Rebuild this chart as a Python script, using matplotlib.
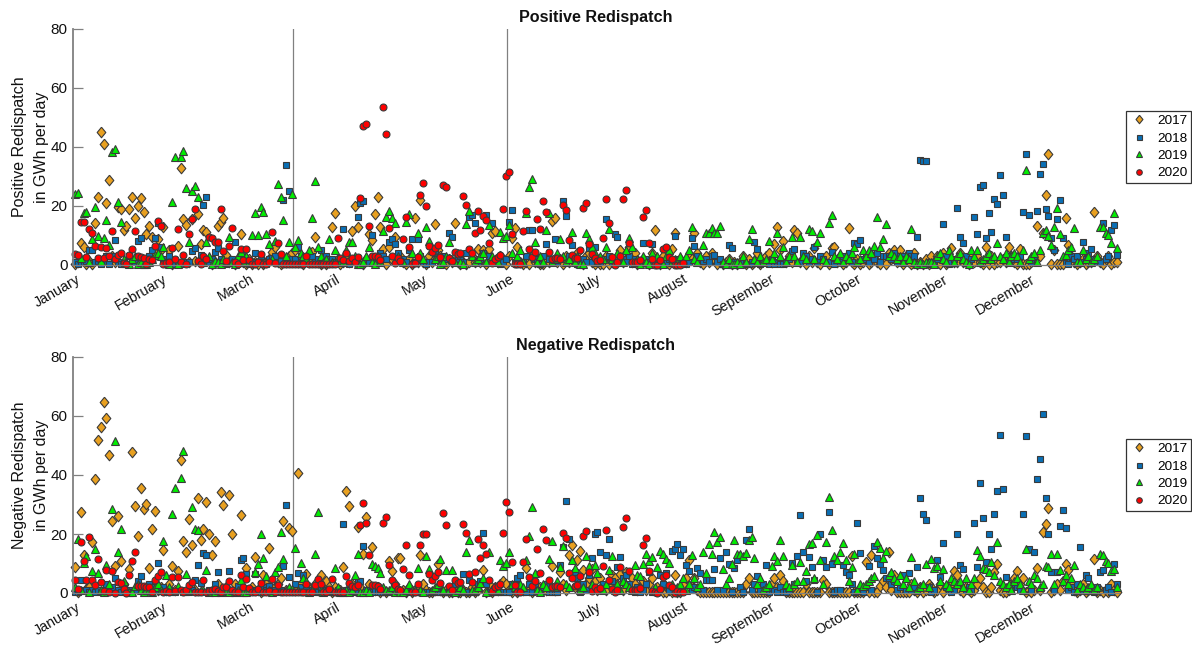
import numpy as np
import matplotlib
matplotlib.use('Agg')
import matplotlib.pyplot as plt
import matplotlib.transforms as mtrans

plt.rcParams['font.family'] = ['Liberation Sans', 'DejaVu Sans']

months = ['January', 'February', 'March', 'April', 'May', 'June', 'July', 'August',
          'September', 'October', 'November', 'December']
month_ticks = [0.6, 31, 61.4, 91.8, 122.2, 152.6, 183, 213.4, 243.8, 274.2, 304.6, 335]
event_days = [77.4, 152.3]
years = ['2017', '2018', '2019', '2020']

# daily values in GWh, ten days per row
pos_2017 = [0.5,1,7.3,6.2,0.3,1.5,0.3,14.1,22.9,45.2,
    40.9,20.9,28.8,3,1,19.8,19,11.9,13.2,19,
    23.2,16,20,22.7,18,10.4,13.2,9.6,4,8.9,
    5,13,1,5,0.5,1,6.5,33,15.5,13.6,
    1,15.5,1.5,17.3,7.1,11.9,11.1,2,0.5,1,
    13.2,14.7,16,3.4,1,1.5,0.5,2,10.4,1,
    0.5,2,0.5,1,0.5,2,0.5,1,2,4.5,
    6,1,0.5,2,1,3,4,5,1,2,
    0.5,2,1,4.5,9.6,1,0.5,1.5,0.5,1,
    13,17.7,2,0.5,1,3,1,11.6,20,12.8,
    1,0.5,2,10.4,8.5,17.3,22.9,13,5.3,0.3,
    6,2,9.6,3,3,1,0.5,2,0.5,15.8,
    1,22,1,0.5,3,1,13.8,5,3,1,
    0.5,2,1,14.3,1,0.5,1,0.2,1,3,
    1,5.5,1,5,0.5,5.5,10.7,11.5,1,3,
    2,0.3,3,9,12.4,6,1,0.3,1,0.5,
    3,1,2,0.5,0.3,2,1,15,15.8,1,
    2,0.5,3,1,2,1,4,1,0.5,3,
    4,1,0.3,2,0.5,0.5,3,0.5,1,1,
    2,5,1,2,6,1,4,0.5,1,2,
    1,0.5,4,12,1,0.5,3,1,0.5,5.5,
    11,1,2,1,1,3,2,11,4,1,
    0.5,3,1,4,2,0.5,1,0.5,1,2,
    0.3,1,0.5,1,3,0.5,2,0.3,1,4,
    0.5,2,3,4,1,7,12.8,5,8,1,
    3,1,12,11,1,2,0.5,3,1,5.6,
    1,0.5,2,3,0.3,5.6,6,1,3,0.5,
    1,12.5,1,0.5,2,0.5,1,2,0.3,1,
    3,1,0.3,2,0.5,4,2,5,1,5,
    0.3,3,1,0.5,4,0.5,1,0.3,2,0.5,
    3,1,3,0.5,4,0.5,2,5.6,1,1,
    4,1,2,0.5,3,1,3,1,0.5,6.2,
    0.5,3,0.5,1,1,2,1,6.2,3,1,
    0.5,5.5,0.5,0.3,0.3,1,3,13.2,3,10.7,
    23.6,37.5,0.3,5,0.3,0.3,0.5,15.9,6.8,3,
    1,0.5,1,2,0.5,1,1,18,3,1,
    0.5,2,3,0.5,1,1]
pos_2018 = [1,0.5,1,1,1.5,5,5,1,1.5,0.5,
    1,3,0.3,3,8.5,1,0.5,0.5,0.5,3,
    2,1,8,9.2,1,0.5,3,5,9.2,14.1,
    6.2,2,1,3,0.5,0.5,1,0.5,1,1,
    1,4.9,5.9,1,3.5,20.3,22.9,1,2,4.5,
    5.6,2,1,0.5,1,2,7.9,1,3,3.5,
    1,0.5,1,4.2,1,3,0.5,0.5,2,2.5,
    3,1,1.5,22,33.9,25,2,2,6,3,
    2,1,3,3,1,2,5,1.5,3,2,
    2,1,1,1,12.3,1,0.5,1,1,16.4,
    21.1,21.7,1,1,10.2,1,1,4,3,2,
    7.9,8.9,7,4,1,2,1,5,8.9,1,
    8.7,3,1,0.5,1,1,4,2,1,3,
    2,10.7,9.6,1,2,3,1,4,16.4,17,
    14.3,1,2,4,17,3,14.3,1,2,0.5,
    1,2,14.6,18.6,1,0.5,1,1,3,11.9,
    11.7,2,1,0.5,3,7,2,1,8.9,1,
    2,21.6,16.7,3,6.8,2,0.5,1,2,1,
    5.7,1,6,2,1,2,15.6,3,1,10.4,
    9.4,1,2,1,3,0.5,2,1,1,7.6,
    2,1,7.1,1,0.5,1,0.5,1,2,1,
    9.8,2,1,1,0.5,1,9.3,6.6,3,1,
    1.5,2,1,3,3.5,1,2,0.5,0.5,6.8,
    5.6,1,0.5,0.5,1,0.5,0.5,1,7.8,5.3,
    0.5,1,1,0.5,2,0.5,1,0.5,0.5,1,
    2,4.7,5.5,1,1,4,3,1,2,6,
    1,3,2,1,1,4.5,0.5,2,1,3,
    2,4,1,7.3,7.1,8.5,2,3,1,3.5,
    2,4,1,3,3,3,2,4,1,3,
    3,2,4,3,3,9.6,35.6,35.1,35.4,1,
    0.5,1,2,3,13.9,3,0.5,1,2,19.3,
    9.4,7.3,3,1,2,16.4,10.5,26.6,27.1,9.2,
    17.5,11.2,22.3,20.6,30.6,23.7,9.5,1,3,2,
    2,3,18,37.6,17,1,3,18.2,30.8,34.4,
    19,16.6,9,5,15.6,22,9,1,0.5,3,
    2,3,1,7.9,2,4,5.5,2,1,1,
    14.1,2,3,11.9,13.6,3.5]
pos_2019 = [24,24.5,2.5,17.7,18,1,8.9,19.8,9.8,1.5,
    9,15.3,6.8,38.3,39.4,21.5,14.5,2,1,0.5,
    2,3,0.5,1,0.5,0.5,1,2,3.5,4,
    3,6,1,0.5,21.2,36.7,0.5,36.5,38.6,26.2,
    7.9,25,26.8,23.2,2,1,7.9,3,0.5,1.5,
    1,0.5,2,1,9.4,1,0.5,3,4.5,1,
    3,1,10,17.5,10,19.8,18,10.4,7,2,
    8.2,27.3,23.2,15.3,3,7.7,24,6,8.5,4,
    3,2,5,16,28.4,6,3,1,2,8.9,
    1,5,2,1,1,5,7.7,7.7,3,0.5,
    0.5,1,3,6,1,0.5,3,1,11.6,16.4,
    18.4,16,14.3,3,2,1,14.7,17.3,4,1,
    10.7,4,2,12.8,8.2,5,2,3,0.5,1,
    3,7.9,2,1,4,1,0.5,13.8,18.2,3,
    1,2,3,4,1,13.6,3,2,1,11.3,
    9,9.8,13.6,4,1,3,5,1,17.5,26.3,
    29,7.9,1,3,1,11.9,17.5,1,2,4,
    8.9,3,1,2,11.3,1,3,0.5,0.5,11,
    8.9,6,4,1,3,2,6.2,12.3,2,1,
    4,3,1,5,9.3,6,1,2,0.5,3,
    1,0.5,4,1,3,1,0.5,3,5,1,
    2,1,3,1,3,5,13,2,1,3,
    6.8,11,11,12.4,10.7,11,13.2,1,0.5,2,
    0.5,0.5,1,0.5,3,1,8.7,12.3,2,1,
    3,1,2,8.1,2,4,10.7,3,6,1,
    3,9.6,3,1,9.4,3,2,12.3,11.6,2,
    7.7,11,2,1,14.3,17,3,2,4,1,
    3,2,4,6.2,1,2,5,3,5,4,
    6.5,16.4,6.2,8.9,13.8,3,4,3,2,3,
    1,3,2,12.3,1,0.5,1,0.5,1,1,
    1,0.5,3,4,2,1,5,3,1,3,
    4,2,1,0.5,5,3,5,1,2,3,
    4,2,3,7.3,3,2,4,1,3,4,
    3,1,5,32.2,2,3,4,1,5,10.7,
    12,9.8,6.8,13,19.2,10.4,3,3.5,5,6,
    12.4,1,1,5,2,3,1,2,3,13,
    12.8,10.7,10.2,7.3,17.5,5.9]
pos_2020 = [3.7,3.4,14.7,14.6,2.8,12.2,11,6.4,2.5,6,
    2.3,5.6,3.1,11.5,1.9,3.4,4,0.6,0.2,3.4,
    5.4,11.6,3,2.8,2.3,0.2,1.9,1.7,6.6,14.9,
    13.3,0.2,0.8,1.1,5.6,1.9,12.1,1.1,3.4,0.2,
    10.4,15.5,18.9,1.5,0.2,3,1.9,9.6,9.2,7.9,
    7.7,18.9,4.9,1.5,6.6,12.5,0.9,0.2,5.3,1.6,
    5.4,1.7,0.2,0.2,1.1,3.7,0.2,0.2,1.1,11.3,
    0.6,7.3,3.7,0.2,0.5,0.2,0.2,0.2,0.2,0.3,
    0.5,3,0.2,0.2,0.2,0.2,0.2,0.2,0.2,0.2,
    0.2,0.2,9.3,2.3,1.7,4,1.4,2.5,1,2.8,
    22.6,47.1,47.7,13.3,3,3,2.6,1.7,53.6,44.3,
    12.7,3,0.6,2.5,1.5,8.7,16.2,6.2,0.2,0.6,
    2.8,23.6,27.9,20,6.4,4.3,5.9,6.8,2.8,27,
    26.4,2.5,1.4,4.5,3.7,4,23.5,20.2,5.5,4,
    11,18.4,12,16.5,15.3,7.3,0.6,1.9,2.8,3.4,
    19,30.3,31.4,10.4,0.2,0.2,0.3,11.6,18.4,5.5,
    2.8,4.3,15.6,12.2,21.6,18.1,4.5,2,2.3,2.3,
    1.9,20.2,18.6,8.5,3.4,2.3,2.3,5,19.3,20.9,
    7,3.7,2.3,1.4,1.7,9.3,22.4,14.1,2.6,0,
    1.1,3,22.3,25.4,7.6,1.1,0.9,1.1,1.7,16.4,
    18.8,7.3,2.1,0,0,1.8,5.3,6.2,2.6,1.9,
    0,0,0,0.6]

neg_2017 = [8.8,0.5,27.3,13,1.5,2,17.4,38.6,52,56.4,
    64.6,59.2,46.9,24.4,9,26,11,3,1,8.1,
    47.7,29.4,19.2,35.5,28.5,30.3,8.4,21.8,27.8,1,
    2,14.5,1,3,9.3,1,7.5,45.2,17.7,13.8,
    25.1,16.4,1,32.3,18.1,21.7,31,20.1,12.9,17.6,
    3,34.1,29.9,2,33.3,20.1,3,1,26.6,1,
    8.5,1,2,12.1,1,0.5,6.2,3,15.3,1,
    2,3,5,24.4,1,22,21.1,1,40.6,3,
    1,6.6,2,1,3,1,6.1,1,4,2,
    0.5,2,1,1,8.9,34.6,29.4,3,1,22.5,
    2,13.3,25.6,3,15.5,1,2,0.5,1,0.5,
    10.7,7.6,3,12,12,1,0.5,2,0.3,1,
    1,13,3,1,0.5,0.3,1,9.8,1,0.3,
    1,0.3,0.5,1,0.3,0.3,1,0.3,0.5,2,
    0.3,1,3,7.9,0.3,3,0.5,2,1,3,
    4,3,1,0.3,1,0.5,2,1,8.5,1,
    0.5,3,1,2,1,1,3,9,1,2,
    7,3.2,1,13,16.4,2,11.1,14.1,7.9,3,
    5,8,4,1,5,2,1,3,6,5,
    3,6.5,1,7,2,5,3,1,2,4,
    1,3,5,1,2,1,0.5,0.3,1,0.3,
    6,0.3,0.3,3,5,11.3,2,5,1,0.3,
    0.2,0.2,0.2,0.2,0.2,0.2,0.2,0.2,0.2,0.2,
    0.2,0.2,0.2,0.2,0.2,3,5,0.3,0.2,0.2,
    0.2,0.2,0.2,0.2,3,5,2,6,4,0.2,
    0.2,0.2,0.2,0.2,0.2,0.2,3,0.2,0.2,0.2,
    0.2,0.2,4.5,3,0.2,0.2,0.2,0.2,0.2,0.2,
    0.5,0.2,12.4,0.2,0.2,0.2,0.5,10.4,0.2,13,
    0.2,0.2,2.3,4,2,13.8,1,6,0.2,0.2,
    0.2,0.2,0.5,3,1,0.5,2,0.2,1,3,
    2,0.5,1,3,0.5,2,1,3,7.5,6,
    1,0.5,2,1,0.5,1,3,5,2,0.5,
    0.5,2.1,7.2,9.8,1,0.3,0.5,1,3,5,
    7.3,3,5,0.5,1,0.3,1,8.5,1,20.6,
    23.4,28.7,0.5,1,3,1,4,9.8,7.7,3,
    1,0.5,1,3,0.5,1,2,11.6,0.5,1,
    0.5,1,0.5,3,1,0.3]
neg_2018 = [0.5,0.3,4.5,1,1,0.5,1,0.3,1,0.5,
    1,3,1,2,5.1,1,0.5,1,0.5,1,
    0.5,1,4,5.6,0.5,1,3,2,1,10.2,
    1,2,0.5,1,0.5,0.3,1,1,0.3,0.5,
    0.5,1,4.5,9.4,3.5,13.6,12.9,1,1,3,
    7,1,0.5,1,7.6,1,0.5,2.5,11.3,11.8,
    6.5,1,1,6.6,0.5,3,2,1,2.5,1,
    1,0.5,1,9.3,29.7,5.5,0.5,3,6.8,2,
    6.2,1,0.5,1,0.5,0.3,1,0.5,1,0.3,
    0.5,0.5,1,0.3,23.4,1,0.5,1,0.5,4,
    4,16,1,0.5,0.5,1,0.3,0.3,0.3,0.5,
    0.3,0.3,1,0.5,0.3,0.3,0.5,1,0.3,0.3,
    0.3,0.3,0.3,0.3,0.3,0.3,0.5,0.3,0.3,0.3,
    0.3,0.3,1,3,0.3,1,6.6,0.5,4.5,0.3,
    0.3,3,4,20.3,3,0.3,0.5,0.3,0.3,0.3,
    0.3,0.3,0.5,3,3,5,6.2,0.5,0.3,3,
    0.3,3,1,0.5,2,3,0.3,0.3,0.3,0.3,
    9.6,15.5,31.3,18.3,6,7,5,0.5,3,1,
    6,12,20,20.7,13.8,3,13,18.4,4,1,
    8.7,12.3,5,6.2,3,1,0.5,2,0.3,1,
    3,7.1,0.5,0.3,0.3,6,3,6.8,1,14.4,
    14.9,16.7,12.8,15,9.4,7.6,1,2,8.4,6.8,
    1,4.5,4.5,4.5,8.1,1,11.8,1,13.8,9.9,
    0.5,8.6,11.3,2,0.5,18,21.8,1,3,5.6,
    1,3,9.4,0.5,1,1,0.5,2,0.3,0.3,
    1,10.2,3,12.4,26.3,13.9,4,12.1,8.7,4.5,
    0.5,20.1,11.3,8.8,27.6,9.7,0.3,1,1,9.6,
    7.2,6.2,3,0.5,23.6,13.6,0.5,2,9,1,
    15.8,11.8,9.8,7.7,5,5,3,4,1,2,
    6,1,6.7,1,2,8.8,32.3,26.7,24.9,2,
    0.5,1,11.1,5.3,16.9,2,1,0.5,1,20,
    9.5,8.2,1,2,1,23.7,8.7,37.2,25.5,10.5,
    20,14.9,26.7,34.5,53.4,35.3,5.4,2,1,3,
    2,1,26.9,53.1,15,1,13.9,38.6,45.3,60.7,
    32.2,19.9,7.2,1,7,22.6,28,21.9,1,2,
    0.5,3,15.7,1,6.1,5,1,0.5,2,7.1,
    7.7,1,2,0.5,9.8,3]
neg_2019 = [2,18.3,1,10.2,12.5,0.5,7.5,14.9,6.8,1,
    0.5,9.4,3,28.6,51.4,13.9,21.8,4,1,0.5,
    0.5,2.5,3,1,0.5,1,1,0.5,2,3,
    1,17.6,6.2,2,26.8,35.6,2.5,38.9,48.1,6.4,
    1,29,21.8,21.5,1,1,7.7,0.5,1,0.5,
    1,0.5,1,1,0.5,1,0.5,1,4.5,0.5,
    0.5,1,1,7.1,9.8,20,11.9,5.6,1,0.5,
    7,8.7,20.7,11.6,1,2,1.5,15.3,1,10.2,
    5,4,0.5,1,13.1,27.6,1,0.5,1,1,
    1,8.4,2,0.5,0.5,1,0.5,1,6.2,13.2,
    0.5,0.3,1,0.5,9.8,9,8.5,6.8,2,1,
    1,2,0.5,1,0.5,0.5,1,3,1,1,
    8.4,1,0.5,12.4,8.2,1,2,3,11.5,1,
    7.9,1,7.9,0.5,1,2,1,14,18,1,
    1,2,3.5,5,0.5,13.8,1,2,1,11.3,
    9,10.2,13.8,3,2,1,3,2,11.3,19.2,
    29,6.8,1,0.5,3,2,11.6,17.5,2,4,
    8.8,15.8,3,2,11.3,8.5,3,1,2,12.4,
    9,3,9.6,6.8,2,1,3,7.9,12.4,1,
    3,1,4,3,2,1,9.6,6.2,5.6,9.9,
    13.3,10.7,12.2,2,8.8,14.1,13.3,11.6,10.2,3,
    1,2,3,5,1,3,13,5,2,3,
    13.8,6.8,16.6,13.2,20.8,17.2,19,8,3,5,
    9.8,17.9,13.3,13.3,12.4,13.6,17.9,19,12,3,
    5,1,2,3,9,12.4,10.7,17.9,12.4,3,
    2,9.5,3,4,10.5,4,7.6,16.6,17,5,
    19.7,11.3,3,17.2,32.7,21.4,12.4,11.3,13.8,16.8,
    11.1,4,8.8,13.3,1,3,2.5,3,4,5,
    5.9,17.2,15.3,12,14.2,6,7,5,4,6,
    3,5,2,12.3,4,1,2,3,9.9,2,
    11.5,8.4,9.3,4,8.1,3,2,5,4,3,
    4,2,5,1,3,5,14.7,12.4,8.5,8,
    7,10.4,6,17.4,4,3,2,3,1,4,
    5,3,1,15,4,3,6,5,2,3,
    9.3,8.9,13.3,3,13.3,7.7,4,6,3,5,
    9.6,1,3,2,1,2,3,1,2,13.2,
    13,10.7,10.2,7.3,8.2,1.9]
neg_2020 = [4.3,1.4,17.2,10.7,4.5,19,4.5,2.7,11.4,3.6,
    0.7,7.7,0.4,7.5,0,3.7,3.4,1.5,0,6.1,
    10.8,13.8,2.3,2.5,2.3,2,2,0.5,4.3,5.9,
    7.2,0.2,0.8,0.2,5.5,0.6,5.4,1.1,0.2,1.1,
    2.8,3.6,0.5,0.4,0.4,4.3,0.5,0.6,1,1.3,
    0.8,0.5,2,2,4,1,0.5,0.3,6.1,2,
    4.9,1.8,0.3,0.2,1.2,3.5,0.3,0.2,0.8,4.9,
    0.4,2.8,0.4,0.2,0.2,0.2,0.2,0.2,0.2,0.3,
    0.5,3,0.2,0.2,2.6,4.9,3,0.3,0.2,1.5,
    4.9,0.5,0.4,0.3,0.2,5.9,3.4,2.3,2,2.7,
    23.2,30.5,23.6,12.8,2.8,2.6,2.3,1.4,23.8,25.8,
    9.4,4.3,2.8,1.5,1,8.1,16.2,6.1,0.2,0.5,
    2.9,16.4,20,20,6.4,4.5,5.6,7,3.4,27,
    22.9,2.3,1.1,4.5,3.4,3.6,23.4,20.2,6.4,3.7,
    7,18.3,12,16.4,13.2,4.5,0.6,2,2.5,3.2,
    20.2,31,27.3,10.4,2.8,0.2,0.3,10.6,18.4,5.4,
    2.5,4.1,14.8,6.7,21.7,18,4.3,1.9,2.3,2.3,
    2,20.2,18.5,6.7,5,2.5,2.7,5.6,19.3,20.9,
    7,0.6,2,0.9,1.7,9,21.5,4.3,1.4,0.2,
    1,8.8,22.3,25.4,7.6,0.9,0.9,1.1,1.7,16.4,
    18.8,7.3,0.6,0.2,0,1.4,5.4,6.1,2.8,1.9,
    0,0.6,0.3,0.3]

colors = ['#e8a020', '#0a6fb5', '#00ee00', '#ff0000']
# the 2017 diamond is wider than matplotlib's 'd'
diamond = [(0, 1), (0.82, 0), (0, -1), (-0.82, 0), (0, 1)]
markers = [diamond, 's', '^', 'o']
sizes = [7.6, 4.5, 5.7, 5.0]
edge = '#3a3a3a'
grey = '#808080'
W, H = 1192, 648


def draw_panel(ax, series, title, ylabel):
    for vals, col, mk, ms, yr in zip(series, colors, markers, sizes, years):
        days = np.arange(1, len(vals) + 1)
        ax.plot(days, vals, linestyle='none', marker=mk, color=col, markersize=ms,
                markeredgecolor=edge, markeredgewidth=0.8, label=yr, clip_on=False)
    for d in event_days:
        ax.axvline(d, color=grey, linewidth=0.9, zorder=1)
    ax.set_xlim(0.3, 366.7)
    ax.set_ylim(0, 80)
    ax.set_yticks([0, 20, 40, 60, 80])
    ax.tick_params(axis='y', direction='in', length=7.5, width=0.9, color=grey,
                   labelsize=11, pad=4, labelcolor='#111111')
    ax.set_xticks(month_ticks)
    ax.set_xticklabels(months, rotation=30, ha='right', rotation_mode='anchor', fontsize=10.3,
                       color='#111111')
    ax.tick_params(axis='x', length=0, pad=5)
    shift = mtrans.ScaledTranslation(2 / 100, 0, ax.figure.dpi_scale_trans)
    for lab in ax.get_xticklabels():
        lab.set_transform(lab.get_transform() + shift)
    ax.spines['top'].set_visible(False)
    ax.spines['right'].set_visible(False)
    ax.spines['left'].set_color(grey)
    ax.spines['left'].set_linewidth(1.3)
    ax.spines['bottom'].set_color(grey)
    ax.spines['bottom'].set_linewidth(0.9)
    ax.set_title(title, fontsize=11.6, fontweight='bold', pad=5, color='#111111')
    ax.set_ylabel(ylabel, fontsize=11.5, labelpad=1, linespacing=1.55, color='#111111')
    leg = ax.legend(loc='center left', bbox_to_anchor=(1.0067, 0.5), borderaxespad=0,
                    markerscale=0.8, fontsize=9.7, fancybox=False, framealpha=1,
                    edgecolor='#333333', labelspacing=0.37, handlelength=1.5,
                    handletextpad=0.55, borderpad=0.25)
    leg.get_frame().set_linewidth(0.9)


fig = plt.figure(figsize=(W / 100, H / 100), dpi=100)
ax1 = fig.add_axes([73 / W, 1 - 265 / H, 1046 / W, 236 / H])
ax2 = fig.add_axes([73 / W, 1 - 593 / H, 1046 / W, 236 / H])
draw_panel(ax1, [pos_2017, pos_2018, pos_2019, pos_2020], 'Positive Redispatch',
           'Positive Redispatch\nin GWh per day')
draw_panel(ax2, [neg_2017, neg_2018, neg_2019, neg_2020], 'Negative Redispatch',
           'Negative Redispatch\nin GWh per day')

fig.savefig('out.png', dpi=100)
